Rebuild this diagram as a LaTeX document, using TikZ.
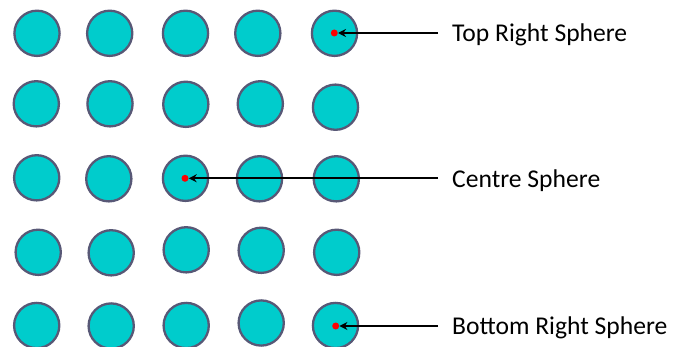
\documentclass[tikz,border=0pt]{standalone}
\usepackage{fontspec}
\setmainfont{Carlito}
\usetikzlibrary{arrows.meta}
\definecolor{ballfill}{RGB}{0,204,204}
\definecolor{ballline}{RGB}{88,88,118}
\begin{document}
\begin{tikzpicture}[x=1pt,y=-1pt,
  ball/.style={circle,draw=ballline,fill=ballfill,line width=2.3pt,minimum size=45.2pt,inner sep=0pt},
  dot/.style={circle,fill=red,minimum size=7pt,inner sep=0pt},
  lbl/.style={anchor=base west,font=\fontsize{25.6}{30}\selectfont,inner sep=0pt},
  pointer/.style={line width=2.4pt,-{Stealth[length=8pt,width=8pt]}}]
\useasboundingbox (0,0) rectangle (674,347);
% row 1
\node[ball] (c11) at (37,33.3) {};
\node[ball] (c12) at (109.7,33.3) {};
\node[ball] (c13) at (185.5,33.3) {};
\node[ball] (c14) at (257.8,33.3) {};
\node[ball] (c15) at (334.5,33.3) {};
% row 2
\node[ball] (c21) at (36.3,103.8) {};
\node[ball] (c22) at (110,103.8) {};
\node[ball] (c23) at (185.8,104.3) {};
\node[ball] (c24) at (260.3,103.8) {};
\node[ball] (c25) at (335.5,107.2) {};
% row 3
\node[ball] (c31) at (36.7,177.8) {};
\node[ball] (c32) at (108.8,178.8) {};
\node[ball] (c33) at (185.5,178.3) {};
\node[ball] (c34) at (259.5,178.8) {};
\node[ball] (c35) at (336.3,178.8) {};
% row 4
\node[ball] (c41) at (38.2,252.3) {};
\node[ball] (c42) at (111.2,252.8) {};
\node[ball] (c43) at (186.2,249.8) {};
\node[ball] (c44) at (261.2,250.3) {};
\node[ball] (c45) at (336.7,252.3) {};
% row 5
\node[ball] (c51) at (36.7,325.5) {};
\node[ball] (c52) at (111.2,326) {};
\node[ball] (c53) at (186.2,325.5) {};
\node[ball] (c54) at (261.2,323) {};
\node[ball] (c55) at (335.5,325.5) {};
% red dots
\node[dot] (d1) at (334.3,33) {};
\node[dot] (d2) at (185,178.3) {};
\node[dot] (d3) at (335.7,326) {};
% arrow starts
\coordinate (s1) at (438,33);
\coordinate (s2) at (438,178.3);
\coordinate (s3) at (438,326);
\draw[pointer] (s1) -- (d1);
\draw[pointer] (s2) -- (d2);
\draw[pointer] (s3) -- (d3);
% labels
\node[lbl] (t1) at (452,41.8) {Top Right Sphere};
\node[lbl] (t2) at (452,187.1) {Centre Sphere};
\node[lbl] (t3) at (452,334.8) {Bottom Right Sphere};
\end{tikzpicture}
\end{document}
